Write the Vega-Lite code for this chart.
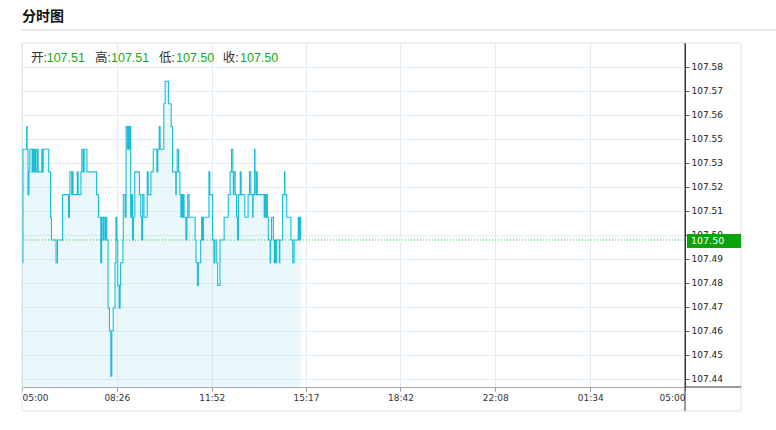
{
  "$schema": "https://vega.github.io/schema/vega-lite/v6.json",
  "width": 663,
  "height": 344,
  "autosize": {"type": "none"},
  "padding": {"left": 22, "top": 43, "right": 91, "bottom": 43},
  "background": "#ffffff",
  "title": {"text": "分时图", "anchor": "start", "frame": "group", "font": "Noto Sans CJK SC", "fontSize": 14, "fontWeight": "bold", "color": "#111111", "offset": -2, "baseline": "middle"},
  "datasets": {
    "price": [
      {"t": "2024-01-08T05:00", "p": 107.4897}, {"t": "2024-01-08T05:02", "p": 107.5410}, {"t": "2024-01-08T05:10", "p": 107.5513}, {"t": "2024-01-08T05:11", "p": 107.5410},
      {"t": "2024-01-08T05:13", "p": 107.5205}, {"t": "2024-01-08T05:15", "p": 107.5308}, {"t": "2024-01-08T05:17", "p": 107.5410}, {"t": "2024-01-08T05:22", "p": 107.5308},
      {"t": "2024-01-08T05:24", "p": 107.5410}, {"t": "2024-01-08T05:26", "p": 107.5308}, {"t": "2024-01-08T05:28", "p": 107.5410}, {"t": "2024-01-08T05:30", "p": 107.5308},
      {"t": "2024-01-08T05:33", "p": 107.5410}, {"t": "2024-01-08T05:35", "p": 107.5308}, {"t": "2024-01-08T05:43", "p": 107.5410}, {"t": "2024-01-08T05:45", "p": 107.5308},
      {"t": "2024-01-08T05:46", "p": 107.5410}, {"t": "2024-01-08T05:58", "p": 107.5308}, {"t": "2024-01-08T06:02", "p": 107.5103}, {"t": "2024-01-08T06:04", "p": 107.5000},
      {"t": "2024-01-08T06:14", "p": 107.4897}, {"t": "2024-01-08T06:17", "p": 107.5000}, {"t": "2024-01-08T06:28", "p": 107.5205}, {"t": "2024-01-08T06:41", "p": 107.5103},
      {"t": "2024-01-08T06:43", "p": 107.5205}, {"t": "2024-01-08T06:44", "p": 107.5308}, {"t": "2024-01-08T06:48", "p": 107.5205}, {"t": "2024-01-08T06:50", "p": 107.5308},
      {"t": "2024-01-08T06:51", "p": 107.5205}, {"t": "2024-01-08T07:00", "p": 107.5308}, {"t": "2024-01-08T07:02", "p": 107.5205}, {"t": "2024-01-08T07:08", "p": 107.5308},
      {"t": "2024-01-08T07:10", "p": 107.5410}, {"t": "2024-01-08T07:13", "p": 107.5308}, {"t": "2024-01-08T07:15", "p": 107.5410}, {"t": "2024-01-08T07:21", "p": 107.5308},
      {"t": "2024-01-08T07:42", "p": 107.5205}, {"t": "2024-01-08T07:46", "p": 107.5103}, {"t": "2024-01-08T07:51", "p": 107.4897}, {"t": "2024-01-08T07:53", "p": 107.5103},
      {"t": "2024-01-08T07:54", "p": 107.5000}, {"t": "2024-01-08T07:57", "p": 107.5103}, {"t": "2024-01-08T08:00", "p": 107.5000}, {"t": "2024-01-08T08:02", "p": 107.5103},
      {"t": "2024-01-08T08:04", "p": 107.5000}, {"t": "2024-01-08T08:07", "p": 107.4692}, {"t": "2024-01-08T08:10", "p": 107.4590}, {"t": "2024-01-08T08:13", "p": 107.4384},
      {"t": "2024-01-08T08:15", "p": 107.4590}, {"t": "2024-01-08T08:18", "p": 107.4692}, {"t": "2024-01-08T08:22", "p": 107.4897}, {"t": "2024-01-08T08:24", "p": 107.5103},
      {"t": "2024-01-08T08:26", "p": 107.5000}, {"t": "2024-01-08T08:28", "p": 107.4795}, {"t": "2024-01-08T08:31", "p": 107.4692}, {"t": "2024-01-08T08:33", "p": 107.4795},
      {"t": "2024-01-08T08:34", "p": 107.4897}, {"t": "2024-01-08T08:39", "p": 107.5000}, {"t": "2024-01-08T08:40", "p": 107.5205}, {"t": "2024-01-08T08:44", "p": 107.5103},
      {"t": "2024-01-08T08:46", "p": 107.5513}, {"t": "2024-01-08T08:49", "p": 107.5410}, {"t": "2024-01-08T08:51", "p": 107.5513}, {"t": "2024-01-08T08:53", "p": 107.5410},
      {"t": "2024-01-08T08:55", "p": 107.5513}, {"t": "2024-01-08T08:56", "p": 107.5103}, {"t": "2024-01-08T08:58", "p": 107.5205}, {"t": "2024-01-08T09:00", "p": 107.5000},
      {"t": "2024-01-08T09:02", "p": 107.5103}, {"t": "2024-01-08T09:05", "p": 107.5308}, {"t": "2024-01-08T09:15", "p": 107.5205}, {"t": "2024-01-08T09:18", "p": 107.5103},
      {"t": "2024-01-08T09:20", "p": 107.5000}, {"t": "2024-01-08T09:22", "p": 107.5205}, {"t": "2024-01-08T09:25", "p": 107.5103}, {"t": "2024-01-08T09:32", "p": 107.5308},
      {"t": "2024-01-08T09:34", "p": 107.5205}, {"t": "2024-01-08T09:40", "p": 107.5308}, {"t": "2024-01-08T09:45", "p": 107.5410}, {"t": "2024-01-08T09:53", "p": 107.5308},
      {"t": "2024-01-08T09:55", "p": 107.5410}, {"t": "2024-01-08T09:58", "p": 107.5513}, {"t": "2024-01-08T10:00", "p": 107.5410}, {"t": "2024-01-08T10:08", "p": 107.5616},
      {"t": "2024-01-08T10:11", "p": 107.5718}, {"t": "2024-01-08T10:18", "p": 107.5616}, {"t": "2024-01-08T10:24", "p": 107.5513}, {"t": "2024-01-08T10:27", "p": 107.5308},
      {"t": "2024-01-08T10:34", "p": 107.5205}, {"t": "2024-01-08T10:35", "p": 107.5308}, {"t": "2024-01-08T10:37", "p": 107.5410}, {"t": "2024-01-08T10:40", "p": 107.5308},
      {"t": "2024-01-08T10:43", "p": 107.5205}, {"t": "2024-01-08T10:45", "p": 107.5103}, {"t": "2024-01-08T10:47", "p": 107.5205}, {"t": "2024-01-08T10:49", "p": 107.5103},
      {"t": "2024-01-08T10:50", "p": 107.5205}, {"t": "2024-01-08T10:52", "p": 107.5103}, {"t": "2024-01-08T10:56", "p": 107.5000}, {"t": "2024-01-08T10:58", "p": 107.5103},
      {"t": "2024-01-08T11:00", "p": 107.5205}, {"t": "2024-01-08T11:03", "p": 107.5103}, {"t": "2024-01-08T11:16", "p": 107.5000}, {"t": "2024-01-08T11:18", "p": 107.4897},
      {"t": "2024-01-08T11:21", "p": 107.4795}, {"t": "2024-01-08T11:23", "p": 107.4897}, {"t": "2024-01-08T11:28", "p": 107.5000}, {"t": "2024-01-08T11:30", "p": 107.5103},
      {"t": "2024-01-08T11:32", "p": 107.5000}, {"t": "2024-01-08T11:34", "p": 107.5103}, {"t": "2024-01-08T11:46", "p": 107.5308}, {"t": "2024-01-08T11:48", "p": 107.5205},
      {"t": "2024-01-08T11:54", "p": 107.5000}, {"t": "2024-01-08T11:57", "p": 107.4897}, {"t": "2024-01-08T11:59", "p": 107.5000}, {"t": "2024-01-08T12:03", "p": 107.4897},
      {"t": "2024-01-08T12:05", "p": 107.4795}, {"t": "2024-01-08T12:10", "p": 107.5000}, {"t": "2024-01-08T12:19", "p": 107.5103}, {"t": "2024-01-08T12:28", "p": 107.5205},
      {"t": "2024-01-08T12:32", "p": 107.5308}, {"t": "2024-01-08T12:35", "p": 107.5410}, {"t": "2024-01-08T12:38", "p": 107.5308}, {"t": "2024-01-08T12:39", "p": 107.5205},
      {"t": "2024-01-08T12:40", "p": 107.5308}, {"t": "2024-01-08T12:43", "p": 107.5205}, {"t": "2024-01-08T12:46", "p": 107.5103}, {"t": "2024-01-08T12:48", "p": 107.5000},
      {"t": "2024-01-08T12:50", "p": 107.5205}, {"t": "2024-01-08T12:54", "p": 107.5308}, {"t": "2024-01-08T12:56", "p": 107.5205}, {"t": "2024-01-08T13:04", "p": 107.5103},
      {"t": "2024-01-08T13:11", "p": 107.5205}, {"t": "2024-01-08T13:14", "p": 107.5308}, {"t": "2024-01-08T13:17", "p": 107.5205}, {"t": "2024-01-08T13:21", "p": 107.5103},
      {"t": "2024-01-08T13:22", "p": 107.5205}, {"t": "2024-01-08T13:25", "p": 107.5410}, {"t": "2024-01-08T13:26", "p": 107.5308}, {"t": "2024-01-08T13:28", "p": 107.5205},
      {"t": "2024-01-08T13:30", "p": 107.5308}, {"t": "2024-01-08T13:31", "p": 107.5205}, {"t": "2024-01-08T13:46", "p": 107.5103}, {"t": "2024-01-08T13:48", "p": 107.5205},
      {"t": "2024-01-08T13:50", "p": 107.5103}, {"t": "2024-01-08T13:52", "p": 107.5205}, {"t": "2024-01-08T13:53", "p": 107.5103}, {"t": "2024-01-08T13:55", "p": 107.5000},
      {"t": "2024-01-08T13:59", "p": 107.4897}, {"t": "2024-01-08T14:00", "p": 107.5000}, {"t": "2024-01-08T14:02", "p": 107.5103}, {"t": "2024-01-08T14:06", "p": 107.5000},
      {"t": "2024-01-08T14:08", "p": 107.4897}, {"t": "2024-01-08T14:10", "p": 107.5000}, {"t": "2024-01-08T14:12", "p": 107.4897}, {"t": "2024-01-08T14:13", "p": 107.5000},
      {"t": "2024-01-08T14:19", "p": 107.4897}, {"t": "2024-01-08T14:20", "p": 107.5000}, {"t": "2024-01-08T14:26", "p": 107.5205}, {"t": "2024-01-08T14:30", "p": 107.5308},
      {"t": "2024-01-08T14:31", "p": 107.5205}, {"t": "2024-01-08T14:35", "p": 107.5103}, {"t": "2024-01-08T14:44", "p": 107.5000}, {"t": "2024-01-08T14:48", "p": 107.4897},
      {"t": "2024-01-08T14:51", "p": 107.5000}, {"t": "2024-01-08T15:00", "p": 107.5103}, {"t": "2024-01-08T15:02", "p": 107.5000}, {"t": "2024-01-08T15:04", "p": 107.5103},
      {"t": "2024-01-08T15:05", "p": 107.5000}
    ],
    "stats": [{"open": 107.51, "high": 107.51, "low": 107.50, "close": 107.50}]
  },
  "layer": [
    {
      "data": {"name": "stats"},
      "mark": {"type": "rect", "fill": null, "stroke": "#e2e2e2", "strokeWidth": 1},
      "encoding": {
        "x": {"datum": {"year": 2024, "month": 1, "date": 8, "hours": 5}, "type": "temporal"},
        "x2": {"datum": {"year": 2024, "month": 1, "date": 9, "hours": 7, "minutes": 1, "seconds": 36}},
        "y": {"datum": 107.58906, "type": "quantitative"},
        "y2": {"datum": 107.42269}
      }
    },
    {
      "data": {"name": "price"},
      "mark": {"type": "area", "interpolate": "step-after", "clip": true, "color": "#8fd9e8", "opacity": 0.18},
      "encoding": {
        "x": {
          "field": "t", "type": "temporal",
          "scale": {"domain": [{"year": 2024, "month": 1, "date": 8, "hours": 5}, {"year": 2024, "month": 1, "date": 9, "hours": 5}]},
          "axis": {
            "title": null, "format": "%H:%M", "labelFlush": true, "labelOverlap": false, "tickCount": 20,
            "values": [
              {"year": 2024, "month": 1, "date": 8, "hours": 5},
              {"year": 2024, "month": 1, "date": 8, "hours": 8, "minutes": 26},
              {"year": 2024, "month": 1, "date": 8, "hours": 11, "minutes": 52},
              {"year": 2024, "month": 1, "date": 8, "hours": 15, "minutes": 17},
              {"year": 2024, "month": 1, "date": 8, "hours": 18, "minutes": 42},
              {"year": 2024, "month": 1, "date": 8, "hours": 22, "minutes": 8},
              {"year": 2024, "month": 1, "date": 9, "hours": 1, "minutes": 34},
              {"year": 2024, "month": 1, "date": 9, "hours": 5}
            ],
            "grid": true, "gridColor": "#e1edf5", "domainColor": "#aaaaaa", "tickColor": "#999999", "tickSize": 4,
            "labelFont": "DejaVu Sans", "labelFontSize": 9, "labelColor": "#333333", "labelPadding": 2
          }
        },
        "y": {
          "field": "p", "type": "quantitative",
          "scale": {"domain": [107.43354, 107.58906], "zero": false, "nice": false},
          "axis": {
            "title": null, "orient": "right", "format": ".2f", "labelOverlap": false, "tickCount": 30,
            "values": [107.43716, 107.44801, 107.45886, 107.46971, 107.48056, 107.49141, 107.50226, 107.51311, 107.52396, 107.53481, 107.54566, 107.55651, 107.56736, 107.57821],
            "grid": true, "gridColor": "#e1edf5", "domainColor": "#333333", "tickColor": "#555555", "tickSize": 4,
            "labelFont": "DejaVu Sans", "labelFontSize": 9, "labelColor": "#222222", "labelPadding": 2
          }
        }
      }
    },
    {
      "data": {"name": "price"},
      "mark": {"type": "line", "interpolate": "step-after", "clip": true, "color": "#1bbcd8", "strokeWidth": 1.1},
      "encoding": {
        "x": {"field": "t", "type": "temporal"},
        "y": {"field": "p", "type": "quantitative"}
      }
    },
    {
      "data": {"name": "stats"},
      "mark": {"type": "rule", "color": "#33c433", "strokeDash": [1, 2], "strokeWidth": 1},
      "encoding": {"y": {"datum": 107.5, "type": "quantitative"}}
    },
    {
      "data": {"name": "stats"},
      "mark": {"type": "rule", "color": "#333333", "strokeWidth": 1},
      "encoding": {
        "x": {"datum": {"year": 2024, "month": 1, "date": 9, "hours": 5}, "type": "temporal"},
        "y": {"datum": 107.58906, "type": "quantitative"},
        "y2": {"datum": 107.42269}
      }
    },
    {
      "data": {"name": "stats"},
      "mark": {"type": "rule", "color": "#333333", "strokeWidth": 1},
      "encoding": {
        "x": {"datum": {"year": 2024, "month": 1, "date": 9, "hours": 5}, "type": "temporal"},
        "x2": {"datum": {"year": 2024, "month": 1, "date": 9, "hours": 7, "minutes": 1, "seconds": 36}},
        "y": {"datum": 107.43354, "type": "quantitative"}
      }
    },
    {
      "data": {"name": "stats"},
      "mark": {"type": "rule", "color": "#d0d0d0", "strokeWidth": 1},
      "encoding": {
        "x": {"datum": {"year": 2024, "month": 1, "date": 8, "hours": 5}, "type": "temporal"},
        "x2": {"datum": {"year": 2024, "month": 1, "date": 9, "hours": 8, "minutes": 17, "seconds": 36}},
        "y": {"datum": 107.59494, "type": "quantitative"}
      }
    },
    {
      "data": {"name": "stats"},
      "mark": {"type": "rect", "color": "#0aa30a"},
      "encoding": {
        "x": {"datum": {"year": 2024, "month": 1, "date": 9, "hours": 5, "minutes": 4, "seconds": 18}, "type": "temporal"},
        "x2": {"datum": {"year": 2024, "month": 1, "date": 9, "hours": 7, "minutes": 1, "seconds": 36}},
        "y": {"datum": 107.50271, "type": "quantitative"},
        "y2": {"datum": 107.49638}
      }
    },
    {
      "data": {"name": "stats"},
      "mark": {"type": "text", "align": "left", "baseline": "middle", "color": "#ffffff", "font": "DejaVu Sans", "fontSize": 9.5},
      "encoding": {
        "x": {"datum": {"year": 2024, "month": 1, "date": 9, "hours": 5, "minutes": 13}, "type": "temporal"},
        "y": {"datum": 107.49955, "type": "quantitative"},
        "text": {"field": "close", "type": "quantitative", "format": ".2f"}
      }
    },
    {
      "data": {"name": "stats"},
      "mark": {"type": "text", "text": "开:", "align": "left", "baseline": "middle", "color": "#333333", "font": "Liberation Sans, Noto Sans CJK SC", "fontSize": 12.5},
      "encoding": {
        "x": {"datum": {"year": 2024, "month": 1, "date": 8, "hours": 5, "minutes": 19, "seconds": 30}, "type": "temporal"},
        "y": {"datum": 107.58214, "type": "quantitative"}
      }
    },
    {
      "data": {"name": "stats"},
      "mark": {"type": "text", "align": "left", "baseline": "middle", "color": "#1aa81a", "font": "Liberation Sans", "fontSize": 12.5},
      "encoding": {
        "x": {"datum": {"year": 2024, "month": 1, "date": 8, "hours": 5, "minutes": 53, "seconds": 36}, "type": "temporal"},
        "y": {"datum": 107.58214, "type": "quantitative"},
        "text": {"field": "open", "type": "quantitative", "format": ".2f"}
      }
    },
    {
      "data": {"name": "stats"},
      "mark": {"type": "text", "text": "高:", "align": "left", "baseline": "middle", "color": "#333333", "font": "Liberation Sans, Noto Sans CJK SC", "fontSize": 12.5},
      "encoding": {
        "x": {"datum": {"year": 2024, "month": 1, "date": 8, "hours": 7, "minutes": 38, "seconds": 36}, "type": "temporal"},
        "y": {"datum": 107.58214, "type": "quantitative"}
      }
    },
    {
      "data": {"name": "stats"},
      "mark": {"type": "text", "align": "left", "baseline": "middle", "color": "#1aa81a", "font": "Liberation Sans", "fontSize": 12.5},
      "encoding": {
        "x": {"datum": {"year": 2024, "month": 1, "date": 8, "hours": 8, "minutes": 13, "seconds": 18}, "type": "temporal"},
        "y": {"datum": 107.58214, "type": "quantitative"},
        "text": {"field": "high", "type": "quantitative", "format": ".2f"}
      }
    },
    {
      "data": {"name": "stats"},
      "mark": {"type": "text", "text": "低:", "align": "left", "baseline": "middle", "color": "#333333", "font": "Liberation Sans, Noto Sans CJK SC", "fontSize": 12.5},
      "encoding": {
        "x": {"datum": {"year": 2024, "month": 1, "date": 8, "hours": 9, "minutes": 57, "seconds": 36}, "type": "temporal"},
        "y": {"datum": 107.58214, "type": "quantitative"}
      }
    },
    {
      "data": {"name": "stats"},
      "mark": {"type": "text", "align": "left", "baseline": "middle", "color": "#1aa81a", "font": "Liberation Sans", "fontSize": 12.5},
      "encoding": {
        "x": {"datum": {"year": 2024, "month": 1, "date": 8, "hours": 10, "minutes": 34, "seconds": 30}, "type": "temporal"},
        "y": {"datum": 107.58214, "type": "quantitative"},
        "text": {"field": "low", "type": "quantitative", "format": ".2f"}
      }
    },
    {
      "data": {"name": "stats"},
      "mark": {"type": "text", "text": "收:", "align": "left", "baseline": "middle", "color": "#333333", "font": "Liberation Sans, Noto Sans CJK SC", "fontSize": 12.5},
      "encoding": {
        "x": {"datum": {"year": 2024, "month": 1, "date": 8, "hours": 12, "minutes": 15, "seconds": 54}, "type": "temporal"},
        "y": {"datum": 107.58214, "type": "quantitative"}
      }
    },
    {
      "data": {"name": "stats"},
      "mark": {"type": "text", "align": "left", "baseline": "middle", "color": "#1aa81a", "font": "Liberation Sans", "fontSize": 12.5},
      "encoding": {
        "x": {"datum": {"year": 2024, "month": 1, "date": 8, "hours": 12, "minutes": 53, "seconds": 30}, "type": "temporal"},
        "y": {"datum": 107.58214, "type": "quantitative"},
        "text": {"field": "close", "type": "quantitative", "format": ".2f"}
      }
    }
  ],
  "config": {"view": {"stroke": null}}
}
